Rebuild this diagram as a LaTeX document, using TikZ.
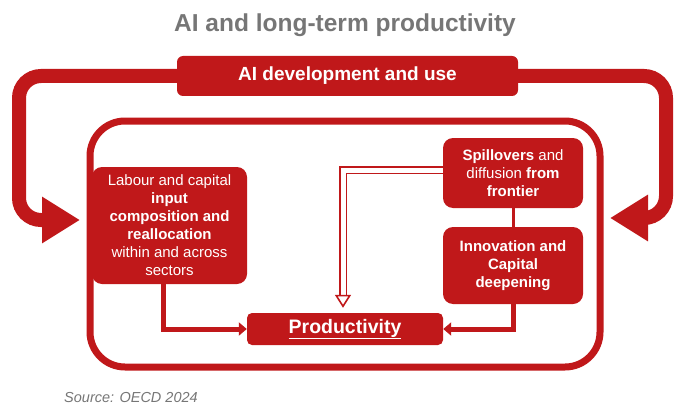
\documentclass[tikz,border=0pt]{standalone}
\usepackage{fontspec}
\setmainfont{Liberation Sans}
\usetikzlibrary{arrows.meta,positioning}
\definecolor{oecdred}{RGB}{192,24,26}
\definecolor{titlegray}{RGB}{118,118,118}
\tikzset{
  box/.style={fill=oecdred, text=white, rounded corners=10pt, align=center, inner sep=2pt,
    font=\fontsize{15}{18}\selectfont},
  loop/.style={draw=oecdred, line width=14pt, rounded corners=22pt, -{Triangle[width=44pt,length=38pt]}},
  link/.style={draw=oecdred, line width=5pt, -{Triangle[width=13pt,length=8pt]}}
}
\begin{document}
\begin{tikzpicture}[x=1pt, y=-1pt]
  \useasboundingbox (0,0) rectangle (676,409);
  \node (title) at (345,25) [text=titlegray, font=\fontsize{24.5}{28}\selectfont\bfseries] {AI and long-term productivity};
  \draw[oecdred, line width=7pt, rounded corners=35pt] (90,121) rectangle (600,367);
  \node (dev) at (347.5,76) [box, rounded corners=6pt, minimum width=341pt, minimum height=40pt,
    font=\fontsize{19}{22}\selectfont\bfseries] {AI development and use};
  \node (labour) at (169.5,225.5) [box, minimum width=155pt, minimum height=117pt]
    {Labour and capital\\ \textbf{input}\\ \textbf{composition and}\\ \textbf{reallocation}\\ within and across\\ sectors};
  \node (spill) at (513,173) [box, minimum width=140pt, minimum height=70pt]
    {\textbf{Spillovers} and\\ diffusion \textbf{from}\\ \textbf{frontier}};
  \node (innov) at (513,265.5) [box, minimum width=140pt, minimum height=77pt, font=\fontsize{15}{18}\selectfont\bfseries]
    {Innovation and\\ Capital\\ deepening};
  \node (prod) at (345,329) [box, rounded corners=5pt, minimum width=196pt, minimum height=32pt,
    font=\fontsize{19.5}{22}\selectfont\bfseries] {\underline{Productivity}};
  \node (source) at (131,398) [text=titlegray, font=\fontsize{14.5}{16}\selectfont\itshape] {Source: OECD 2024};
  \coordinate (leftin) at (80,220);
  \coordinate (rightin) at (610,218);
  \draw[loop] (dev.west) -| (19,220) -- (leftin);
  \draw[loop] (dev.east) -| (666,218) -- (rightin);
  \draw[oecdred, line width=3pt] (spill) -- (innov);
  \draw[link] ([xshift=-6pt]labour.south) |- (prod.west);
  \draw[link] (innov.south) |- (prod.east);
  \draw[oecdred, double=white, double distance=5pt, line width=1.6pt, shorten >=5pt,
    -{Triangle[open,width=16pt,length=13pt]}] ([yshift=3pt]spill.west) -| ([xshift=-2pt]prod.north);
\end{tikzpicture}
\end{document}
